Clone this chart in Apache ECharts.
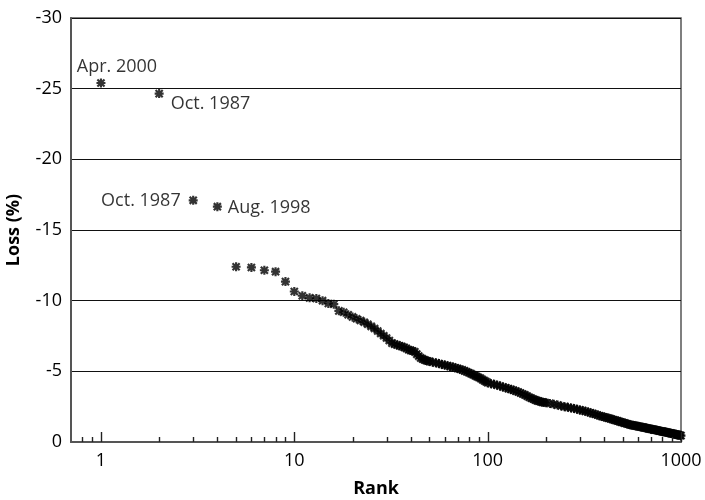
<!DOCTYPE html>
<html>
<head>
<meta charset="utf-8">
<script src="https://cdn.jsdelivr.net/npm/echarts@6/dist/echarts.min.js"></script>
<style>html,body{margin:0;padding:0;background:#fff}#c{width:705px;height:500px}</style>
</head>
<body>
<div id="c"></div>
<script>
// ---- data ----
const ranks = [
  1,2,3,4,5,6,7,8,9,10,11,12,13,14,15,16,17,18,19,20,
  21,22,23,24,25,26,27,28,29,30,31,32,33,34,35,36,37,38,39,40,
  41,42,43,44,45,46,47,48,49,50,
  52,54,56,58,60,62,64,66,68,70,72,74,76,78,80,82,84,86,88,90,92,94,96,98,100,
  104,108,112,116,120,124,128,132,136,140,144,148,152,156,160,164,168,172,176,180,184,188,192,196,200,
  210,220,230,240,250,260,270,280,290,300,310,320,330,340,350,360,370,380,390,400,
  410,420,430,440,450,460,470,480,490,500,510,520,530,540,550,560,570,580,590,600,
  610,620,630,640,650,660,670,680,690,700,710,720,730,740,750,760,770,780,790,800,
  810,820,830,840,850,860,870,880,890,900,910,920,930,940,950,960,970,980,990,1000
];
const losses = [
  -25.4,-24.65,-17.1,-16.65,-12.4,-12.35,-12.15,-12.05,-11.35,-10.65,-10.35,-10.2,-10.15,-10.0,-9.8,-9.75,-9.28,-9.18,-9.0,-8.85,
  -8.72,-8.6,-8.47,-8.33,-8.18,-8.03,-7.85,-7.68,-7.52,-7.36,-7.18,-7.0,-6.93,-6.87,-6.81,-6.76,-6.7,-6.62,-6.53,-6.48,
  -6.44,-6.38,-6.22,-6.08,-5.95,-5.88,-5.82,-5.77,-5.73,-5.7,
  -5.64,-5.6,-5.55,-5.49,-5.44,-5.4,-5.35,-5.3,-5.25,-5.2,-5.15,-5.1,-5.03,-4.97,-4.9,-4.84,-4.76,-4.7,-4.63,-4.56,-4.5,-4.41,-4.34,-4.27,-4.2,
  -4.13,-4.08,-4.02,-3.96,-3.89,-3.84,-3.78,-3.72,-3.66,-3.6,-3.54,-3.47,-3.4,-3.33,-3.25,-3.17,-3.1,-3.04,-2.98,-2.93,-2.89,-2.85,-2.82,-2.8,-2.78,
  -2.73,-2.67,-2.61,-2.55,-2.5,-2.45,-2.41,-2.37,-2.32,-2.27,-2.22,-2.17,-2.12,-2.07,-2.01,-1.96,-1.91,-1.86,-1.81,-1.77,
  -1.73,-1.69,-1.65,-1.61,-1.57,-1.53,-1.49,-1.45,-1.41,-1.38,-1.34,-1.31,-1.27,-1.24,-1.21,-1.19,-1.17,-1.15,-1.13,-1.11,
  -1.09,-1.07,-1.05,-1.03,-1.01,-0.99,-0.97,-0.95,-0.93,-0.91,-0.9,-0.88,-0.86,-0.85,-0.83,-0.81,-0.79,-0.78,-0.76,-0.75,
  -0.73,-0.72,-0.7,-0.69,-0.67,-0.66,-0.64,-0.63,-0.61,-0.6,-0.58,-0.57,-0.55,-0.54,-0.52,-0.51,-0.5,-0.48,-0.47,-0.45
];
const annotationRanks = [1, 2, 3, 4];
const annotationTexts = ['Apr. 2000', 'Oct. 1987', 'Oct. 1987', 'Aug. 1998'];
const majorTicks = [1, 10, 100, 1000];
const minorTicks = [0.8, 0.9, 2, 3, 4, 5, 6, 7, 8, 9, 20, 30, 40, 50, 60, 70, 80, 90,
  200, 300, 400, 500, 600, 700, 800, 900];
const yTicks = [0, -5, -10, -15, -20, -25, -30];
const xTitle = 'Rank';
const yTitle = 'Loss (%)';

// ---- styles ----
const FONT = '"Open Sans", "Noto Sans", sans-serif';
const annotationLabelStyle = [
  { position: 'top', offset: [16, 2] },
  { position: 'right', offset: [2, 10] },
  { position: 'left', offset: [-3, 1] },
  { position: 'right', offset: [1, 1] }
];
const starPath = 'path://M3.8 0H6.2V10H3.8Z M0 3.8H10V6.2H0Z M0.2 1.9L1.9 0.2L9.8 8.1L8.1 9.8Z M8.1 0.2L9.8 1.9L1.9 9.8L0.2 8.1Z';

const points = ranks.map((r, i) => {
  const k = annotationRanks.indexOf(r);
  if (k < 0) return [r, losses[i]];
  return {
    value: [r, losses[i]],
    label: Object.assign({
      show: true,
      formatter: annotationTexts[k],
      fontFamily: FONT, fontSize: 18, color: '#000'
    }, annotationLabelStyle[k])
  };
});

function tickSeries(values, len) {
  return {
    type: 'custom',
    silent: true,
    clip: false,
    z: 5,
    data: values.map(v => [v, 0]),
    encode: { x: 0, y: 1 },
    renderItem: function (params, api) {
      const p = api.coord([api.value(0), api.value(1)]);
      const x = Math.round(p[0]) + 0.5;
      return {
        type: 'line',
        shape: { x1: x, y1: p[1], x2: x, y2: p[1] - len },
        style: { stroke: '#222', lineWidth: 1.4 }
      };
    }
  };
}

const chart = echarts.init(document.getElementById('c'), null, { renderer: 'canvas' });
chart.setOption({
  animation: false,
  backgroundColor: '#fff',
  grid: {
    left: 71, right: 24, top: 18, bottom: 58,
    outerBoundsMode: 'none',
    containLabel: false,
    show: true, borderColor: '#555', borderWidth: 1.5, backgroundColor: 'transparent'
  },
  xAxis: {
    type: 'log',
    logBase: 10,
    min: 0.7,
    max: 1000,
    name: xTitle,
    nameLocation: 'middle',
    nameGap: 38,
    nameTextStyle: { fontFamily: FONT, fontSize: 18, fontWeight: 'bold', color: '#000' },
    axisLine: { show: true, lineStyle: { color: '#555', width: 2 } },
    axisTick: { show: false },
    splitLine: { show: false },
    axisLabel: {
      margin: 10,
      fontFamily: FONT, fontSize: 18, color: '#000',
      showMinLabel: true, showMaxLabel: true,
      formatter: function (v) {
        for (const m of majorTicks) { if (Math.abs(v - m) < 1e-6 * m) return String(m); }
        return '';
      }
    }
  },
  yAxis: {
    type: 'value',
    inverse: true,
    min: -30,
    max: 0,
    interval: 5,
    name: yTitle,
    nameLocation: 'middle',
    nameGap: 48,
    nameTextStyle: { fontFamily: FONT, fontSize: 18, fontWeight: 'bold', color: '#000' },
    axisLine: { show: true, lineStyle: { color: '#555', width: 2 } },
    axisTick: { show: false },
    splitLine: { show: true, lineStyle: { color: '#111', width: 1 } },
    axisLabel: {
      margin: 9,
      fontFamily: FONT, fontSize: 18, color: '#000',
      formatter: function (v) { return yTicks.indexOf(v) >= 0 ? String(v) : ''; }
    }
  },
  series: [
    {
      type: 'scatter',
      data: points,
      symbol: starPath,
      symbolSize: 9,
      itemStyle: { color: '#000' },
      z: 3
    },
    tickSeries(majorTicks, 10),
    tickSeries(minorTicks, 5)
  ]
});
</script>
</body>
</html>
